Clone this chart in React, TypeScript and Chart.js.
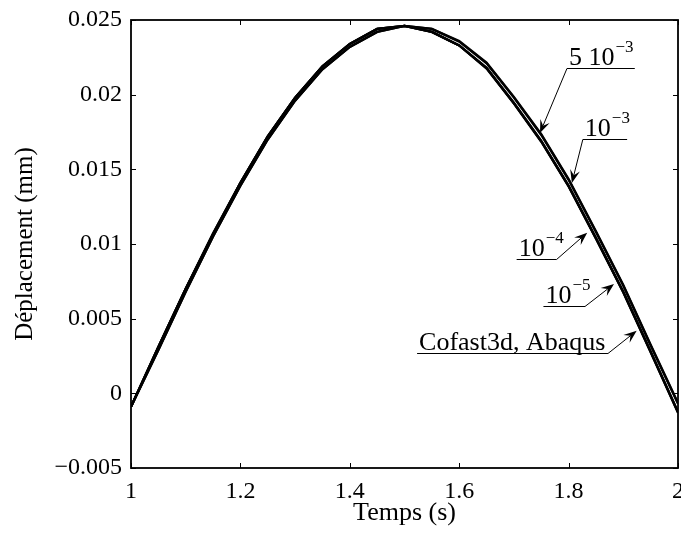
import React, { useEffect, useRef } from "react";
import { Chart, registerables } from "chart.js";

Chart.register(...registerables);

// ---- data ----
const timeValues = [1.0, 1.05, 1.1, 1.15, 1.2, 1.25, 1.3, 1.35, 1.4, 1.45, 1.5, 1.55, 1.6, 1.65, 1.7, 1.75, 1.8, 1.85, 1.9, 1.95, 2.0];

const seriesCofast = [-0.0009, 0.0031, 0.0070, 0.0107, 0.0141, 0.0172, 0.0198, 0.0219, 0.0234, 0.0244, 0.0246, 0.0242, 0.0233, 0.02175, 0.0194, 0.01685, 0.01385, 0.01035, 0.00675, 0.00275, -0.0013];
const series1e5 = [-0.0009, 0.0031, 0.0070, 0.0107, 0.0141, 0.0172, 0.0198, 0.0219, 0.0234, 0.0244, 0.0246, 0.0242, 0.0233, 0.0218, 0.01943, 0.01688, 0.01388, 0.01038, 0.00678, 0.00278, -0.00127];
const series1e4 = [-0.0009, 0.0031, 0.0070, 0.0106, 0.0141, 0.0172, 0.0198, 0.0219, 0.0234, 0.0244, 0.0246, 0.0242, 0.0233, 0.0218, 0.01946, 0.01691, 0.01391, 0.01041, 0.00681, 0.00281, -0.00124];
const series1e3 = [-0.0009, 0.0029, 0.0068, 0.0105, 0.0139, 0.0170, 0.0196, 0.0217, 0.0232, 0.0242, 0.0246, 0.0244, 0.02355, 0.0221, 0.0198, 0.0173, 0.0143, 0.0108, 0.0072, 0.0032, -0.0007];
const series5e3 = [-0.0009, 0.0029, 0.0068, 0.0105, 0.0139, 0.0170, 0.0196, 0.0217, 0.0232, 0.0242, 0.0246, 0.0244, 0.0236, 0.02215, 0.01985, 0.01735, 0.01435, 0.01085, 0.00725, 0.00325, -0.00065];

const seriesNames = ["Cofast3d, Abaqus", "1e-5", "1e-4", "1e-3", "5e-3"];
const seriesList = [seriesCofast, series1e5, series1e4, series1e3, series5e3];

const xTickValues = [1, 1.2, 1.4, 1.6, 1.8, 2];
const xTickLabels = ["1", "1.2", "1.4", "1.6", "1.8", "2"];
const yTickValues = [-0.005, 0, 0.005, 0.01, 0.015, 0.02, 0.025];
const yTickLabels = ["\u22120.005", "0", "0.005", "0.01", "0.015", "0.02", "0.025"];

const xTitle = "Temps (s)";
const yTitle = "Déplacement (mm)";

// annotations (data coordinates)
const annotationTexts = ["5 10", "10", "10", "10", "Cofast3d, Abaqus"];
const annotationExponents = ["\u22123", "\u22123", "\u22124", "\u22125", ""];
const annotationLineStartX = [1.797, 1.826, 1.705, 1.754, 1.523];
const annotationLineEndX = [1.921, 1.907, 1.778, 1.830, 1.872];
const annotationLineY = [0.02179, 0.01703, 0.0090, 0.00585, 0.0027];
const annotationTipX = [1.7477, 1.806, 1.834, 1.883, 1.9245];
const annotationTipY = [0.01743, 0.01409, 0.01076, 0.00732, 0.00419];
const annotationArrowFrom = ["start", "start", "end", "end", "end"];

const FONT = "'Liberation Serif', 'Times New Roman', serif";

const framePlugin = {
  id: "frameTicks",
  afterDraw(chart: any) {
    const { ctx, chartArea, scales } = chart;
    const { left, right, top, bottom } = chartArea;
    const xs = scales.x;
    const ys = scales.y;
    ctx.save();
    ctx.strokeStyle = "#000";
    ctx.lineWidth = 1;
    ctx.beginPath();
    xTickValues.forEach((v) => {
      const px = Math.round(xs.getPixelForValue(v)) + 0.5;
      ctx.moveTo(px, bottom);
      ctx.lineTo(px, bottom - 5);
      ctx.moveTo(px, top);
      ctx.lineTo(px, top + 5);
    });
    yTickValues.forEach((v) => {
      const py = Math.round(ys.getPixelForValue(v)) + 0.5;
      ctx.moveTo(left, py);
      ctx.lineTo(left + 5, py);
      ctx.moveTo(right, py);
      ctx.lineTo(right - 5, py);
    });
    ctx.stroke();
    ctx.lineWidth = 1.8;
    ctx.strokeRect(left, top, right - left, bottom - top);
    ctx.restore();
  },
};

const annotationPlugin = {
  id: "arrowLabels",
  afterDraw(chart: any) {
    const { ctx, scales } = chart;
    const xs = scales.x;
    const ys = scales.y;
    ctx.save();
    ctx.fillStyle = "#000";
    ctx.strokeStyle = "#000";
    annotationTexts.forEach((text, i) => {
      const x0 = xs.getPixelForValue(annotationLineStartX[i]);
      const x1 = xs.getPixelForValue(annotationLineEndX[i]);
      const ly = Math.round(ys.getPixelForValue(annotationLineY[i])) + 0.5;
      const tx = xs.getPixelForValue(annotationTipX[i]);
      const ty = ys.getPixelForValue(annotationTipY[i]);
      ctx.font = `26px ${FONT}`;
      ctx.textBaseline = "alphabetic";
      ctx.textAlign = "left";
      const textX = x0 + 2;
      const baseY = ly - 4;
      ctx.fillText(text, textX, baseY);
      const w = ctx.measureText(text).width;
      if (annotationExponents[i]) {
        ctx.font = `17px ${FONT}`;
        ctx.fillText(annotationExponents[i], textX + w + 1, baseY - 13);
      }
      ctx.lineWidth = 1;
      ctx.beginPath();
      ctx.moveTo(x0, ly);
      ctx.lineTo(x1, ly);
      ctx.stroke();
      const sx = annotationArrowFrom[i] === "start" ? x0 : x1;
      const sy = ly;
      const ang = Math.atan2(ty - sy, tx - sx);
      const headLen = 13;
      const headW = 5;
      const notch = 8;
      ctx.beginPath();
      ctx.moveTo(sx, sy);
      ctx.lineTo(tx - Math.cos(ang) * notch, ty - Math.sin(ang) * notch);
      ctx.stroke();
      const bx = tx - Math.cos(ang) * headLen;
      const by = ty - Math.sin(ang) * headLen;
      const nx = -Math.sin(ang);
      const ny = Math.cos(ang);
      ctx.beginPath();
      ctx.moveTo(tx, ty);
      ctx.lineTo(bx + nx * headW, by + ny * headW);
      ctx.lineTo(tx - Math.cos(ang) * notch, ty - Math.sin(ang) * notch);
      ctx.lineTo(bx - nx * headW, by - ny * headW);
      ctx.closePath();
      ctx.fill();
    });
    ctx.restore();
  },
};

export default function App() {
  const canvasRef = useRef<HTMLCanvasElement | null>(null);

  useEffect(() => {
    if (!canvasRef.current) return;
    Chart.defaults.font.family = FONT;
    const datasets = seriesList.map((vals, i) => ({
      label: seriesNames[i],
      data: timeValues.map((t, j) => ({ x: t, y: vals[j] })),
      borderColor: "#000",
      backgroundColor: "#000",
      borderWidth: 2.3,
      pointRadius: 0,
      tension: 0,
      fill: false,
    }));
    const chart = new Chart(canvasRef.current, {
      type: "line",
      data: { datasets },
      options: {
        animation: false,
        responsive: false,
        devicePixelRatio: 1,
        layout: { padding: { top: 20, right: 3, left: 0, bottom: 0 } },
        plugins: {
          legend: { display: false },
          tooltip: { enabled: false },
        },
        scales: {
          x: {
            type: "linear",
            min: 1,
            max: 2,
            grid: { display: false, drawTicks: false },
            border: { display: false },
            afterBuildTicks: (scale: any) => {
              scale.ticks = xTickValues.map((v) => ({ value: v }));
            },
            afterFit: (scale: any) => {
              scale.height = 67;
              scale.paddingLeft = 0;
              scale.paddingRight = 0;
            },
            ticks: {
              autoSkip: false,
              maxRotation: 0,
              padding: 9,
              color: "#000",
              font: { size: 24, family: FONT },
              callback: (v: any) => {
                const i = xTickValues.findIndex((t) => Math.abs(t - Number(v)) < 1e-9);
                return i >= 0 ? xTickLabels[i] : "";
              },
            },
            title: {
              display: true,
              text: xTitle,
              color: "#000",
              font: { size: 26, family: FONT },
              padding: { top: 0, bottom: 6 },
            },
          },
          y: {
            type: "linear",
            min: -0.005,
            max: 0.025,
            grid: { display: false, drawTicks: false },
            border: { display: false },
            afterBuildTicks: (scale: any) => {
              scale.ticks = yTickValues.map((v) => ({ value: v }));
            },
            afterFit: (scale: any) => {
              scale.width = 131;
              scale.paddingTop = 0;
              scale.paddingBottom = 0;
            },
            ticks: {
              autoSkip: false,
              padding: 9,
              color: "#000",
              font: { size: 24, family: FONT },
              callback: (v: any) => {
                const i = yTickValues.findIndex((t) => Math.abs(t - Number(v)) < 1e-9);
                return i >= 0 ? yTickLabels[i] : "";
              },
            },
            title: {
              display: true,
              text: yTitle,
              color: "#000",
              font: { size: 25, family: FONT },
              padding: { top: 10, bottom: 0 },
            },
          },
        },
      },
      plugins: [framePlugin, annotationPlugin],
    } as any);
    return () => chart.destroy();
  }, []);

  return (
    <div style={{ position: "fixed", left: 0, top: 0, width: 681, height: 535, background: "#fff" }}>
      <canvas ref={canvasRef} width={681} height={535} style={{ display: "block" }} />
    </div>
  );
}
